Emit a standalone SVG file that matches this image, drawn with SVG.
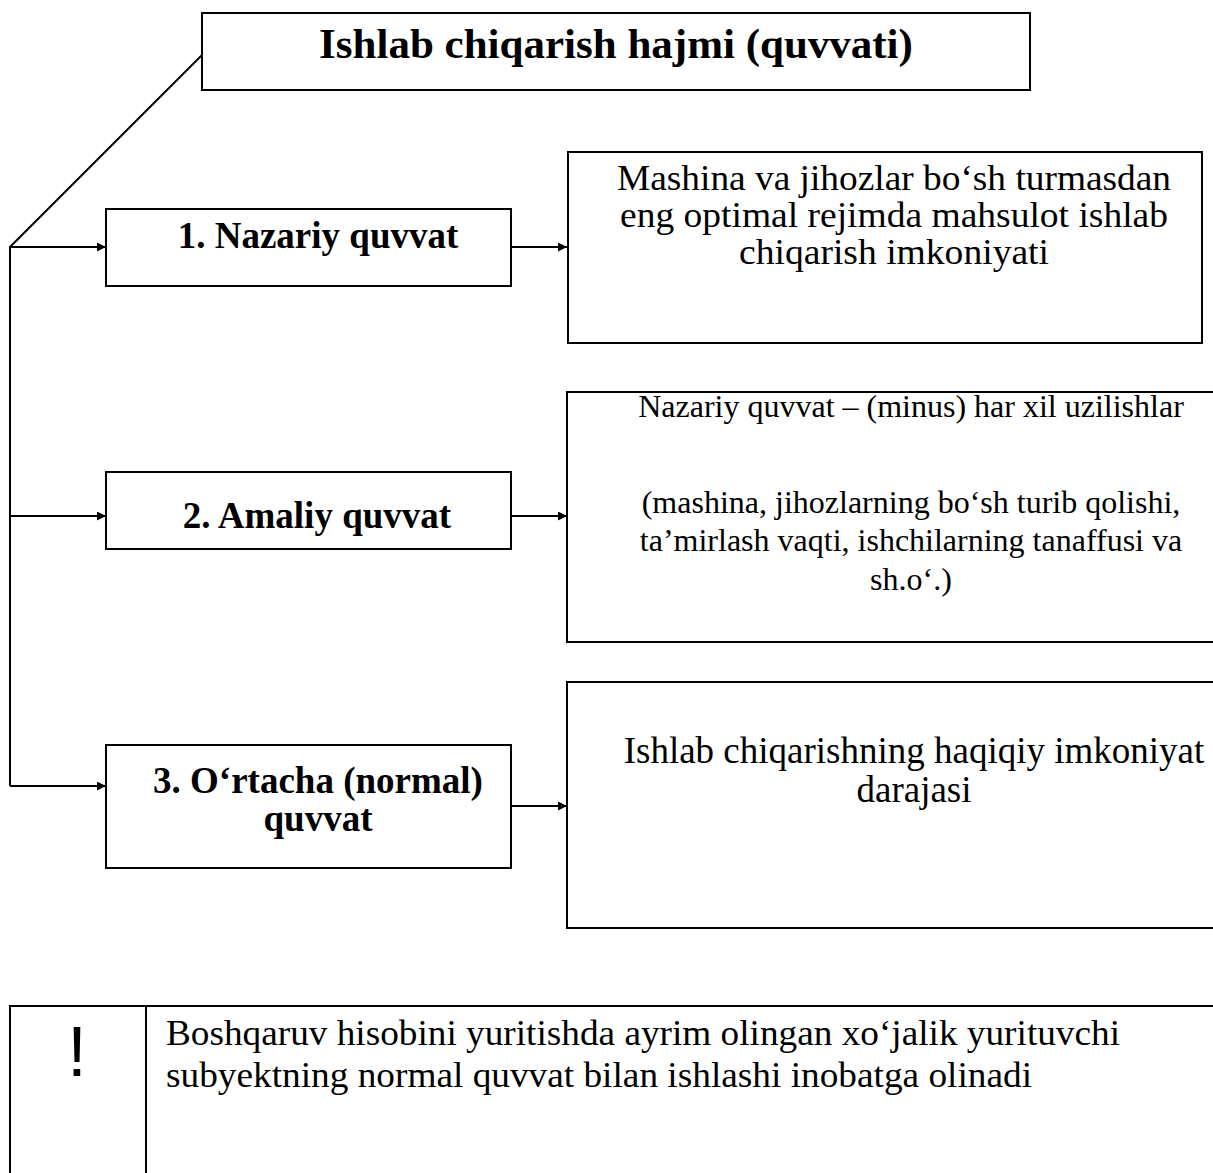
<svg xmlns="http://www.w3.org/2000/svg" width="1213" height="1173" viewBox="0 0 1213 1173">
<style>
.box{fill:#fff;stroke:#000;stroke-width:2}
.ln{fill:none;stroke:#000;stroke-width:2}
text{font-family:"Liberation Serif","Times New Roman",serif;fill:#000}
.t{font-weight:bold;font-size:43px}
.b{font-weight:bold;font-size:37px}
.r{font-size:36px}
.s{font-size:32px}
.n{font-size:36px}
</style>
<defs>
<marker id="ah" viewBox="0 0 10 10" refX="10" refY="5" markerWidth="9" markerHeight="9" markerUnits="userSpaceOnUse" orient="auto"><path d="M0,0 L10,5 L0,10 z" fill="#000"/></marker>
</defs>
<g id="connectors">
<path class="ln" d="M202,55 L10,247 L10,786"/>
<path class="ln" d="M10,247 L106,247" marker-end="url(#ah)"/>
<path class="ln" d="M10,516 L106,516" marker-end="url(#ah)"/>
<path class="ln" d="M10,786 L106,786" marker-end="url(#ah)"/>
<path class="ln" d="M511,247 L567,247" marker-end="url(#ah)"/>
<path class="ln" d="M511,516 L567,516" marker-end="url(#ah)"/>
<path class="ln" d="M511,806 L567,806" marker-end="url(#ah)"/>
</g>
<g id="title">
<rect class="box" x="202" y="13" width="828" height="77"/>
<text x="616" y="58" text-anchor="middle" class="t">Ishlab chiqarish hajmi (quvvati)</text>
</g>
<g id="n1">
<rect class="box" x="106" y="209" width="405" height="77"/>
<text x="318" y="248" text-anchor="middle" class="b">1. Nazariy quvvat</text>
</g>
<g id="n2">
<rect class="box" x="106" y="472" width="405" height="77"/>
<text x="317" y="528" text-anchor="middle" class="b">2. Amaliy quvvat</text>
</g>
<g id="n3">
<rect class="box" x="106" y="745" width="405" height="123"/>
<text x="318" y="793" text-anchor="middle" class="b">3. O‘rtacha (normal)</text>
<text x="318" y="831" text-anchor="middle" class="b">quvvat</text>
</g>
<g id="d1">
<rect class="box" x="568" y="152" width="634" height="191"/>
<text x="894" y="190" text-anchor="middle" class="r" textLength="554" lengthAdjust="spacingAndGlyphs">Mashina va jihozlar bo‘sh turmasdan</text>
<text x="894" y="227" text-anchor="middle" class="r" textLength="548" lengthAdjust="spacingAndGlyphs">eng optimal rejimda mahsulot ishlab</text>
<text x="894" y="264" text-anchor="middle" class="r" textLength="310" lengthAdjust="spacingAndGlyphs">chiqarish imkoniyati</text>
</g>
<g id="d2">
<rect class="box" x="567" y="392" width="660" height="250"/>
<text x="911" y="417" text-anchor="middle" class="s">Nazariy quvvat – (minus) har xil uzilishlar</text>
<text x="911" y="513" text-anchor="middle" class="s">(mashina, jihozlarning bo‘sh turib qolishi,</text>
<text x="911" y="551" text-anchor="middle" class="s">ta’mirlash vaqti, ishchilarning tanaffusi va</text>
<text x="911" y="590" text-anchor="middle" class="s">sh.o‘.)</text>
</g>
<g id="d3">
<rect class="box" x="567" y="682" width="660" height="246"/>
<text x="914" y="763" text-anchor="middle" class="r" style="font-size:37px">Ishlab chiqarishning haqiqiy imkoniyat</text>
<text x="914" y="802" text-anchor="middle" class="r" style="font-size:37px">darajasi</text>
</g>
<g id="note">
<rect class="box" x="10" y="1006" width="1215" height="180"/>
<path class="ln" d="M146,1006 L146,1173"/>
<text x="77" y="1076" text-anchor="middle" style="font-family:'Liberation Sans',Arial,sans-serif;font-size:70px">!</text>
<text x="166" y="1045" class="n" textLength="954" lengthAdjust="spacingAndGlyphs">Boshqaruv hisobini yuritishda ayrim olingan xo‘jalik yurituvchi</text>
<text x="166" y="1087" class="n" textLength="866" lengthAdjust="spacingAndGlyphs">subyektning normal quvvat bilan ishlashi inobatga olinadi</text>
</g>
</svg>
